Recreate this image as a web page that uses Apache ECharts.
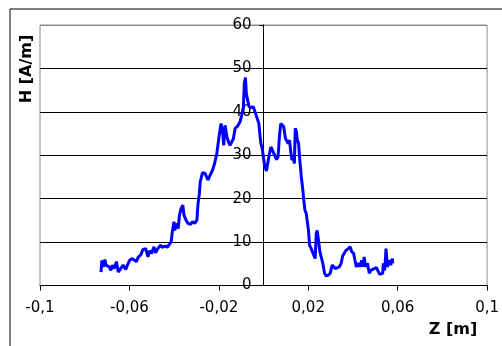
<!DOCTYPE html>
<html>
<head>
<meta charset="utf-8">
<script src="https://cdn.jsdelivr.net/npm/echarts@6/dist/echarts.min.js"></script>
<style>
html,body{margin:0;padding:0;background:#fff;}
#chart{width:502px;height:346px;}
</style>
</head>
<body>
<div id="chart"></div>
<script>
// Z [m] positions
var zValues = [-0.0727,-0.0723,-0.0717,-0.0710,-0.0705,-0.0698,-0.0690,-0.0683,-0.0676,-0.0668,-0.0658,-0.0650,-0.0639,-0.0628,-0.0616,-0.0609,-0.0599,-0.0587,-0.0580,-0.0569,-0.0560,-0.0550,-0.0539,-0.0527,-0.0517,-0.0510,-0.0501,-0.0490,-0.0483,-0.0473,-0.0461,-0.0453,-0.0441,-0.0431,-0.0421,-0.0413,-0.0409,-0.0401,-0.0397,-0.0390,-0.0382,-0.0376,-0.0369,-0.0361,-0.0356,-0.0347,-0.0338,-0.0327,-0.0317,-0.0308,-0.0298,-0.0293,-0.0287,-0.0283,-0.0273,-0.0261,-0.0249,-0.0239,-0.0228,-0.0219,-0.0209,-0.0199,-0.0190,-0.0184,-0.0178,-0.0172,-0.0164,-0.0157,-0.0150,-0.0142,-0.0135,-0.0127,-0.0116,-0.0105,-0.0098,-0.0090,-0.0086,-0.0081,-0.0077,-0.0071,-0.0065,-0.0056,-0.0046,-0.0039,-0.0031,-0.0021,-0.0015,-0.0012,-0.0006,0.0000,0.0006,0.0013,0.0021,0.0025,0.0033,0.0041,0.0050,0.0058,0.0065,0.0071,0.0077,0.0083,0.0090,0.0098,0.0104,0.0110,0.0116,0.0121,0.0127,0.0133,0.0138,0.0142,0.0147,0.0151,0.0157,0.0161,0.0169,0.0175,0.0180,0.0185,0.0191,0.0196,0.0201,0.0206,0.0213,0.0219,0.0225,0.0231,0.0236,0.0240,0.0246,0.0252,0.0258,0.0265,0.0273,0.0280,0.0290,0.0299,0.0307,0.0314,0.0321,0.0329,0.0339,0.0347,0.0354,0.0361,0.0369,0.0379,0.0388,0.0394,0.0403,0.0409,0.0415,0.0424,0.0430,0.0439,0.0444,0.0450,0.0456,0.0465,0.0473,0.0480,0.0487,0.0495,0.0505,0.0513,0.0519,0.0527,0.0533,0.0536,0.0542,0.0548,0.0554,0.0561,0.0569,0.0576,0.0578];
// H [A/m] values
var hValues = [3.1,5.8,4.3,6.0,4.7,5.1,4.3,3.5,4.7,3.9,5.5,3.1,3.9,4.7,3.7,4.7,5.8,6.2,6.6,5.5,6.6,7.0,8.3,8.5,6.6,8.0,7.4,8.9,7.5,8.5,9.3,8.8,9.1,8.8,9.5,10.1,12.0,14.7,12.7,14.3,13.1,16.2,17.7,18.5,16.2,15.1,14.3,14.1,14.7,14.3,15.1,18.9,21.2,23.9,26.0,25.8,24.3,25.4,26.6,28.1,30.4,34.3,37.3,35.8,32.3,36.9,34.3,33.1,32.3,32.7,33.8,36.2,36.7,37.7,39.2,41.2,46.5,47.9,44.2,42.7,41.2,41.0,41.2,40.8,38.9,37.3,36.9,32.7,31.6,29.3,27.3,26.4,26.6,30.0,31.9,31.6,30.0,29.0,29.6,34.3,37.3,37.5,36.6,33.9,34.3,32.7,33.5,31.2,28.9,29.6,28.1,36.2,35.4,33.5,32.7,29.6,25.0,22.4,19.7,17.4,16.6,16.2,12.7,9.3,8.5,8.9,7.0,6.2,12.0,12.7,10.4,7.8,6.6,5.1,2.8,2.2,2.4,2.9,4.7,4.7,3.9,4.3,4.3,5.1,6.8,6.6,8.1,8.5,8.9,7.8,7.4,5.8,4.3,5.1,4.3,5.8,4.3,6.6,4.3,5.1,2.8,3.5,3.1,3.9,4.1,3.7,2.6,2.6,2.8,5.1,3.5,8.5,4.3,5.8,4.7,6.2,5.1];
var xAxisTitle = 'Z [m]';
var yAxisTitle = 'H [A/m]';

var seriesData = zValues.map(function (z, i) { return [z, hValues[i]]; });

var chart = echarts.init(document.getElementById('chart'), null, {renderer: 'canvas'});
var font = 'DejaVu Sans';
var gridLeft = 40, gridRight = 12;
function buildOption(yOffset) {
  return {
    animation: false,
    backgroundColor: '#ffffff',
    grid: {left: gridLeft, right: gridRight, top: 25, bottom: 60.5, show: true, borderColor: '#8c8c8c', borderWidth: 1, backgroundColor: 'transparent'},
    xAxis: {
      type: 'value', min: -0.1, max: 0.1, interval: 0.04,
      axisLine: {onZero: true, lineStyle: {color: '#000', width: 1}},
      axisTick: {show: true, inside: false, length: 5, lineStyle: {color: '#000'}},
      axisLabel: {color: '#000', fontFamily: font, fontSize: 15, margin: 15,
        formatter: function (v) { return String(Math.round(v * 100) / 100).replace('.', ','); }},
      splitLine: {show: false}
    },
    yAxis: {
      type: 'value', min: 0, max: 60, interval: 10, position: 'left', offset: yOffset,
      axisLine: {show: true, onZero: false, lineStyle: {color: '#000', width: 1}},
      axisTick: {show: true, inside: false, length: 4, lineStyle: {color: '#000'}},
      axisLabel: {color: '#000', fontFamily: font, fontSize: 15, margin: 12},
      splitLine: {show: true, lineStyle: {color: ['#000','#000','#000','#000','#000','#000','#8c8c8c'], width: 1}}
    },
    graphic: [
      {type: 'rect', shape: {x: 10, y: 9, width: 700, height: 700}, style: {fill: 'none', stroke: '#000', lineWidth: 1}, z: -1},
      {type: 'text', x: 27, y: 69, rotation: Math.PI / 2, style: {text: yAxisTitle, fontFamily: font, fontWeight: 'bold', fontSize: 16, fill: '#000', align: 'center', verticalAlign: 'middle'}},
      {type: 'text', x: 453, y: 330, style: {text: xAxisTitle, fontFamily: font, fontWeight: 'bold', fontSize: 16, fill: '#000', align: 'center', verticalAlign: 'middle'}}
    ],
    series: [{
      type: 'line', data: seriesData, showSymbol: false, symbol: 'none',
      lineStyle: {color: '#0000ff', width: 3}, smooth: false
    }]
  };
}
chart.setOption(buildOption(0));
// move the y axis (line, ticks, labels) to z = 0 using the library's own x scale
var zeroX = chart.convertToPixel({xAxisIndex: 0}, 0);
chart.setOption(buildOption(-(zeroX - gridLeft)));
</script>
</body>
</html>
